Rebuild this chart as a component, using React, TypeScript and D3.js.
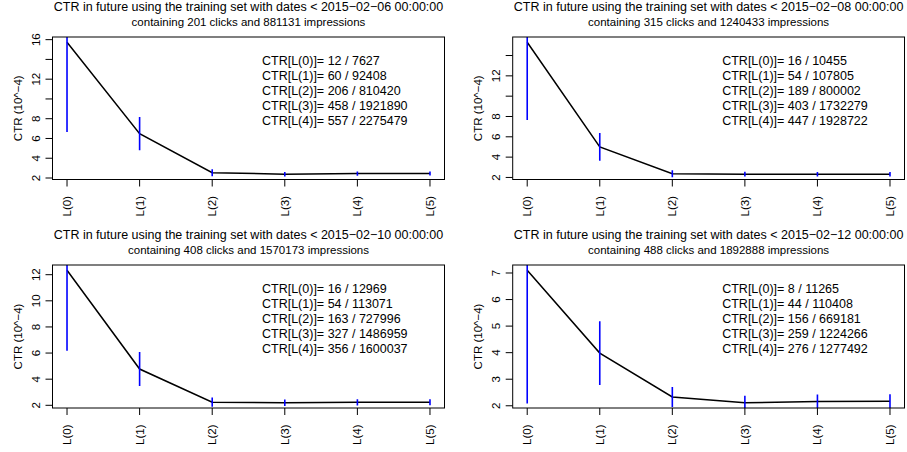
import React from 'react';
import * as d3 from 'd3';

// categories on the x axis
const levels = ['L(0)', 'L(1)', 'L(2)', 'L(3)', 'L(4)', 'L(5)'];

// one entry per panel
const cutoffDates = ['2015−02−06 00:00:00', '2015−02−08 00:00:00', '2015−02−10 00:00:00', '2015−02−12 00:00:00'];
const totalClicks = [201, 315, 408, 488];
const totalImpressions = [881131, 1240433, 1570173, 1892888];

// clicks / impressions printed for L(0)..L(4)
const levelClicks = [
  [12, 60, 206, 458, 557],
  [16, 54, 189, 403, 447],
  [16, 54, 163, 327, 356],
  [8, 44, 156, 259, 276],
];
const levelImpressions = [
  [7627, 92408, 810420, 1921890, 2275479],
  [10455, 107805, 800002, 1732279, 1928722],
  [12969, 113071, 727996, 1486959, 1600037],
  [11265, 110408, 669181, 1224266, 1277492],
];

// L(5) has no printed counts: ctr and bar half height (10^-4)
const lastLevelCtr = [2.45, 2.32, 2.23, 2.17];
const lastLevelHalf = [0.2, 0.22, 0.23, 0.26];

// y ticks and which of them get a label
const yTicks = [
  [2, 4, 6, 8, 10, 12, 14, 16],
  [2, 4, 6, 8, 10, 12, 14],
  [2, 4, 6, 8, 10, 12],
  [2, 3, 4, 5, 6, 7],
];
const yTickLabels = [
  ['2', '4', '6', '8', '', '12', '', '16'],
  ['2', '4', '6', '8', '', '12', ''],
  ['2', '4', '6', '8', '10', '12'],
  ['2', '3', '4', '5', '6', '7'],
];

const W = 907;
const H = 452;
const FONT = "'Liberation Sans', Arial, Helvetica, sans-serif";

// plot boxes [left, right, top, bottom]
const boxes = [
  [52.5, 444.5, 37, 179.5],
  [512.7, 904.5, 37, 179.5],
  [52.5, 444.5, 265, 408],
  [512.7, 904.5, 265, 408],
];

function Panel({ p }: { p: number }) {
  const [x0, x1, y0, y1] = boxes[p];

  const pts = levels.map((name, i) => {
    if (i < 5) {
      const c = levelClicks[p][i];
      const n = levelImpressions[p][i];
      const ctr = c / n;
      const half = 2 * Math.sqrt(ctr * (1 - ctr) / n);
      return { name, i, v: ctr * 1e4, half: half * 1e4 };
    }
    return { name, i, v: lastLevelCtr[p], half: lastLevelHalf[p] };
  });

  const ext = d3.extent(pts, d => d.v) as [number, number];
  const pad = (ext[1] - ext[0]) * 0.04;

  const x = d3.scaleLinear().domain([-0.2, levels.length - 1 + 0.2]).range([x0, x1]);
  const y = d3.scaleLinear().domain([ext[0] - pad, ext[1] + pad]).range([y1, y0]);

  const line = d3.line<any>().x(d => x(d.i)).y(d => y(d.v));
  const clipId = 'clip' + p;

  return (
    <g>
      <defs>
        <clipPath id={clipId}>
          <rect x={x0} y={y0} width={x1 - x0} height={y1 - y0} />
        </clipPath>
      </defs>

      <text x={(x0 + x1) / 2} y={y0 - 26} textAnchor="middle" fontSize={12.5} fontFamily={FONT}>
        {'CTR in future using the training set with dates < ' + cutoffDates[p]}
      </text>
      <text x={(x0 + x1) / 2} y={y0 - 11} textAnchor="middle" fontSize={11.5} fontFamily={FONT}>
        {'containing ' + totalClicks[p] + ' clicks and ' + totalImpressions[p] + ' impressions'}
      </text>

      <g clipPath={`url(#${clipId})`}>
        <path d={line(pts) || ''} fill="none" stroke="#000" strokeWidth={1.5} />
        {pts.map(d => (
          <line key={d.i} x1={x(d.i)} x2={x(d.i)} y1={y(d.v - d.half)} y2={y(d.v + d.half)}
            stroke="#0000ff" strokeWidth={1.6} />
        ))}
      </g>

      <rect x={x0} y={y0} width={x1 - x0} height={y1 - y0} fill="none" stroke="#000" strokeWidth={1} />

      {yTicks[p].map((t, k) => (
        <g key={t} transform={`translate(${x0},${y(t)})`}>
          <line x1={-7} x2={0} stroke="#000" />
          {yTickLabels[p][k] && (
            <text transform="rotate(-90)" x={0} y={-13} textAnchor="middle" fontSize={11.5} fontFamily={FONT}>
              {yTickLabels[p][k]}
            </text>
          )}
        </g>
      ))}

      {levels.map((l, i) => (
        <g key={l} transform={`translate(${x(i)},${y1})`}>
          <line y1={0} y2={7} stroke="#000" />
          <text transform="rotate(-90)" x={-16.5} y={4} textAnchor="end" fontSize={11.5} fontFamily={FONT}>
            {l}
          </text>
        </g>
      ))}

      <text transform={`translate(${x0 - 31},${(y0 + y1) / 2}) rotate(-90)`} textAnchor="middle"
        fontSize={11.5} fontFamily={FONT}>
        CTR (10^−4)
      </text>

      {levelClicks[p].map((c, i) => (
        <text key={i} x={x0 + 209.5} y={y0 + 27.5 + i * 15} fontSize={12.5} fontFamily={FONT}>
          {`CTR[L(${i})]= ${c} / ${levelImpressions[p][i]}`}
        </text>
      ))}
    </g>
  );
}

export default function App() {
  return (
    <svg width={W} height={H} style={{ position: 'absolute', left: 0, top: 0, background: '#fff' }}>
      {[0, 1, 2, 3].map(p => <Panel key={p} p={p} />)}
    </svg>
  );
}
